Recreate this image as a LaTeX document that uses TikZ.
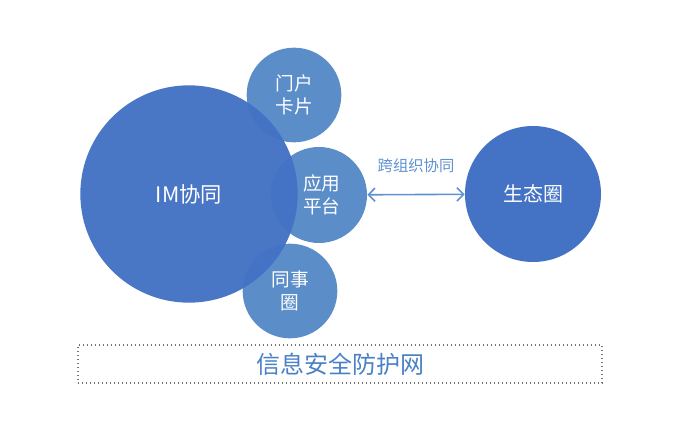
\documentclass[tikz,border=0pt]{standalone}
\usepackage{fontspec}
\setmainfont{Noto Sans CJK SC}
\usetikzlibrary{arrows.meta}
\definecolor{bigblue}{HTML}{4472C4}
\definecolor{smallblue}{HTML}{5B8DC9}
\definecolor{linkblue}{HTML}{5F92CF}
\definecolor{netblue}{HTML}{4A80C6}

\begin{document}
\begin{tikzpicture}[x=0.75pt, y=-0.75pt, every node/.style={circle, inner sep=0pt, align=center, text=white}]
\useasboundingbox (0,0) rectangle (676,442);
\node[fill=smallblue, minimum size=71pt, font=\fontsize{14}{17}\selectfont] (card) at (294,95) {门户\\卡片};
\node[fill=smallblue, minimum size=72pt, font=\fontsize{14}{17}\selectfont] (app) at (319,195) {\hspace*{4pt}应用\\\hspace*{4pt}平台};
\node[fill=smallblue, minimum size=71pt, font=\fontsize{14}{17}\selectfont] (team) at (290,291) {同事\\圈};
\node[fill=bigblue, fill opacity=0.97, text opacity=1, minimum size=163pt, font=\fontsize{16}{19}\selectfont] (im) at (189,194) {IM协同};
\node[fill=bigblue, minimum size=102pt, font=\fontsize{15}{18}\selectfont] (eco) at (533,194) {生态圈};
\draw[linkblue, line width=1.2pt, {Straight Barb[length=5pt, width=10pt]}-{Straight Barb[length=5pt, width=10pt]}] (app) -- (eco)
  node[midway, above=16pt, rectangle, text=linkblue, font=\fontsize{11.5}{14}\selectfont] (crossLbl) {跨组织协同};
\node[rectangle, draw=gray!90!black, dotted, line width=1pt, minimum width=393pt, minimum height=28.5pt, text=netblue, font=\fontsize{18}{21}\selectfont] (secnet) at (340,364) {信息安全防护网};
\end{tikzpicture}
\end{document}
